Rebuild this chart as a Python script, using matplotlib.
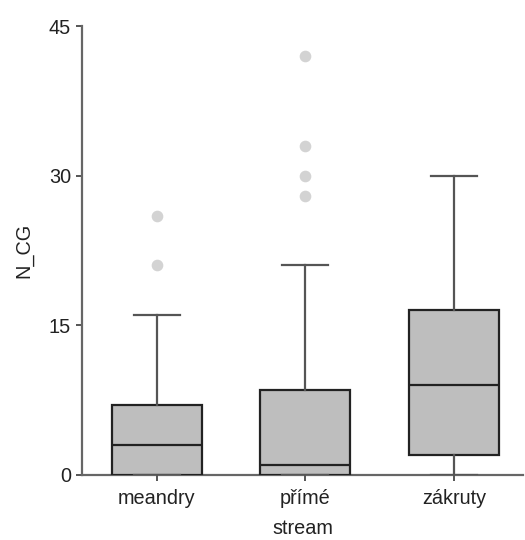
import matplotlib
matplotlib.use("Agg")
import matplotlib.pyplot as plt

categories = ["meandry", "přímé", "zákruty"]
whisker_low = [0, 0, 0]
q1 = [0, 0, 2]
median = [3, 1, 9]
q3 = [7, 8.5, 16.5]
whisker_high = [16, 21, 30]
outliers = [[21, 26], [28, 30, 33, 42], []]
y_ticks = [0, 15, 30, 45]

plt.rcParams['font.family'] = ['Liberation Sans', 'DejaVu Sans']

fig = plt.figure(figsize=(5.25, 5.4), dpi=100)
ax = fig.add_axes([82/525, 1-475/540, 441/525, 449/540])

stats = []
for i, c in enumerate(categories):
    stats.append(dict(label=c, whislo=whisker_low[i], q1=q1[i], med=median[i],
                      q3=q3[i], whishi=whisker_high[i], fliers=outliers[i]))

positions = [1, 2, 3]
ax.bxp(stats, positions=positions, widths=0.606, capwidths=0.31,
       patch_artist=True, showfliers=True,
       boxprops=dict(facecolor='#bebebe', edgecolor='#222222', linewidth=1.6),
       medianprops=dict(color='#222222', linewidth=1.6),
       whiskerprops=dict(color='#555555', linewidth=1.6),
       capprops=dict(color='#555555', linewidth=1.6),
       flierprops=dict(marker='o', markersize=8.4, markerfacecolor='#d3d3d3',
                       markeredgecolor='none', linestyle='none'))

ax.set_xlim(0.495, 3.465)
ax.set_ylim(0, 45)
ax.set_yticks(y_ticks)
ax.set_yticklabels([str(v) for v in y_ticks])
ax.set_xticks(positions)
ax.set_xticklabels(categories)

for s in ['top', 'right']:
    ax.spines[s].set_visible(False)
for s in ['left', 'bottom']:
    ax.spines[s].set_color('#666666')
    ax.spines[s].set_linewidth(1.6)
ax.spines['bottom'].set_zorder(0.5)

ax.tick_params(axis='both', colors='#555555', length=4, width=1.4,
               labelsize=14.3, labelcolor='#222222', pad=4)
ax.tick_params(axis='x', pad=6)

ax.set_xlabel("stream", fontsize=14.3, color='#222222', labelpad=8)
ax.set_ylabel("N_CG", fontsize=14.3, color='#222222', labelpad=11)

fig.savefig("out.png", dpi=100)
